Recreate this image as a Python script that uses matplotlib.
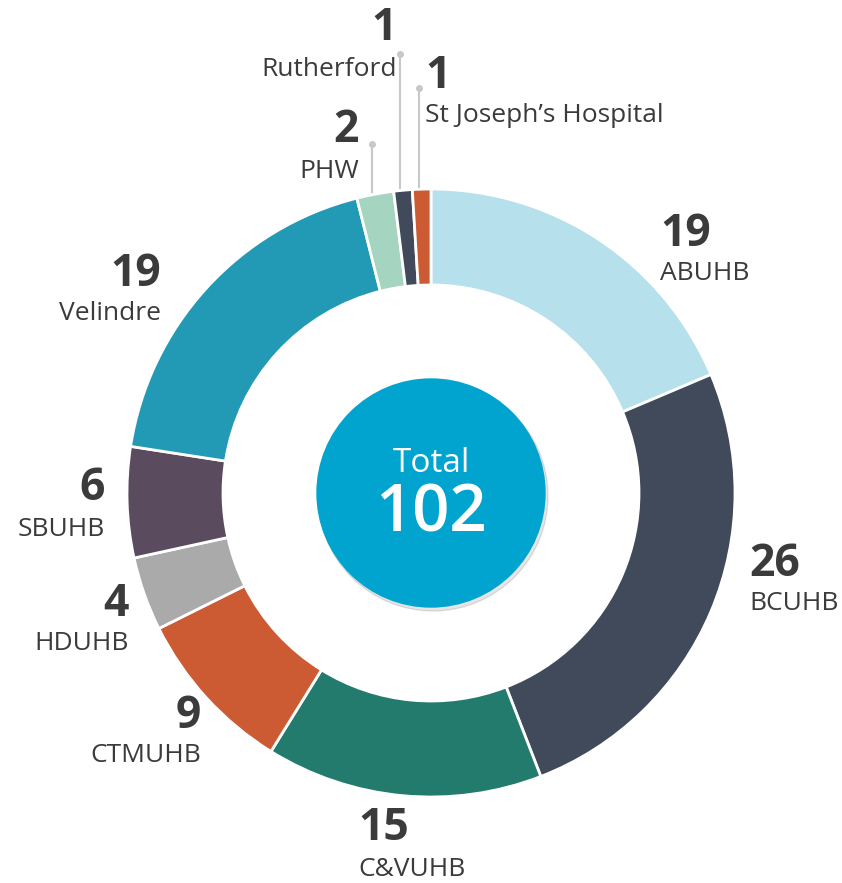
import numpy as np
import matplotlib
matplotlib.use("Agg")
import matplotlib.pyplot as plt
from matplotlib.patches import Circle

# dados
orgs   = ["ABUHB", "BCUHB", "C&VUHB", "CTMUHB", "HDUHB", "SBUHB",
          "Velindre", "PHW", "Rutherford", "St Joseph\u2019s Hospital"]
counts = [19, 26, 15, 9, 4, 6, 19, 2, 1, 1]
colors = ["#b6e0ec", "#404a5b", "#237b6e", "#cc5b34", "#aaaaaa", "#5a4c5e",
          "#229ab5", "#a5d4c0", "#404a5b", "#cc5b34"]

W, H = 842, 883
cx, cy = 431, H - 493
R, ring = 304, 96

plt.rcParams["font.family"] = ["Open Sans", "DejaVu Sans"]
txt_col = "#3b3b3b"

fig = plt.figure(figsize=(W / 100, H / 100), dpi=100)
ax = fig.add_axes([0, 0, 1, 1])
ax.set_xlim(0, W)
ax.set_ylim(0, H)
ax.set_aspect("equal")
ax.axis("off")

wedges, _ = ax.pie(counts, colors=colors, startangle=90, counterclock=False,
                   center=(cx, cy), radius=R,
                   wedgeprops=dict(width=ring, edgecolor="white", linewidth=2))
ax.set_xlim(0, W)
ax.set_ylim(0, H)

# circulo central com sombra
ax.add_patch(Circle((cx + 2, cy - 3), 115, color="#000000", alpha=0.10, zorder=3))
ax.add_patch(Circle((cx, cy), 114, color="#00a4cf", zorder=4))
ax.text(cx, cy + 29, "Total", color="white", fontsize=24, ha="center", va="center", zorder=5)
ax.text(cx, cy - 22, str(sum(counts)), color="white", fontsize=47, fontweight="semibold",
        ha="center", va="center", zorder=5)

# posição dos rótulos (pixels: x, y do número, alinhamento)
label_pos = {
    "ABUHB":    (660, 234, "left"),
    "BCUHB":    (749, 564, "left"),
    "C&VUHB":   (358, 829, "left"),
    "CTMUHB":   (201, 716, "right"),
    "HDUHB":    (129, 604, "right"),
    "SBUHB":    (105, 489, "right"),
    "Velindre": (161, 274, "right"),
    "PHW":      (359, 131, "right"),
    "Rutherford": (397, 29, "right"),
    "St Joseph\u2019s Hospital": (425, 76, "left"),
}
for name, n in zip(orgs, counts):
    x, y, ha = label_pos[name]
    ax.text(x, H - y, str(n), fontsize=32, fontweight="bold", color=txt_col,
            ha=ha, va="center")
    ax.text(x, H - y - 40, name, fontsize=19, color=txt_col, ha=ha, va="center")

# linhas guia das fatias pequenas
leader_top = {"PHW": 144, "Rutherford": 54, "St Joseph\u2019s Hospital": 88}
cum = np.cumsum([0] + counts)
total = cum[-1]
for i, name in enumerate(orgs):
    if name not in leader_top:
        continue
    mid = (cum[i] + cum[i + 1]) / 2 / total * 2 * np.pi
    lx = cx + R * np.sin(mid) - 3
    ly = cy + R * np.cos(mid)
    ty = H - leader_top[name]
    ax.plot([lx, lx], [ly + 2, ty], color="#c8c8c8", lw=1.5, zorder=1)
    ax.plot(lx, ty, "o", color="#c8c8c8", ms=4, zorder=1)

fig.savefig("out.png", dpi=100)
